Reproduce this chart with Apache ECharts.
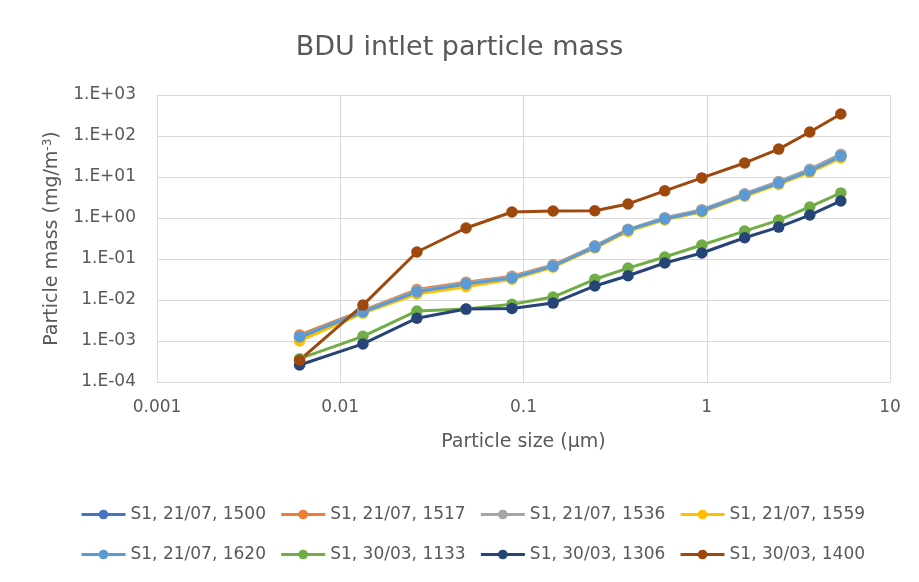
<!DOCTYPE html>
<html>
<head>
<meta charset="utf-8">
<title>BDU intlet particle mass</title>
<script src="https://cdn.jsdelivr.net/npm/echarts@6/dist/echarts.min.js"></script>
<style>
  html, body { margin: 0; padding: 0; background: #fff; }
  #frame {
    position: absolute; left: 7px; top: 3px; width: 940px; height: 620px;
    border: 1px solid #d9d9d9;
  }
  #chart { position: absolute; left: 0; top: 0; width: 919px; height: 582px; }
</style>
</head>
<body>
<div id="frame"></div>
<div id="chart"></div>
<script>
// particle sizes (µm), same for every run
const sizes = [0.006, 0.0133, 0.0262, 0.0486, 0.0865, 0.145, 0.245, 0.372, 0.59, 0.94, 1.61, 2.47, 3.65, 5.39];

// particle mass (mg/m-3) per run
const s1500 = [1.2e-3, 5.3e-3, 0.016, 0.025, 0.036, 0.068, 0.2, 0.5, 0.97, 1.5, 3.7, 7.2, 14.5, 33];
const s1517 = [1.4e-3, 5.6e-3, 0.018, 0.027, 0.038, 0.072, 0.205, 0.52, 1.0, 1.55, 3.8, 7.5, 15, 34];
const s1536 = [1.3e-3, 5.4e-3, 0.017, 0.026, 0.037, 0.07, 0.21, 0.53, 1.02, 1.6, 3.9, 7.8, 15.5, 36];
const s1559 = [1.0e-3, 4.8e-3, 0.014, 0.021, 0.032, 0.063, 0.185, 0.47, 0.9, 1.4, 3.4, 6.6, 13, 29];
const s1620 = [1.26e-3, 5.1e-3, 0.0158, 0.0245, 0.0345, 0.067, 0.195, 0.51, 0.95, 1.48, 3.6, 7.1, 14, 32];
const s1133 = [3.7e-4, 1.3e-3, 5.4e-3, 6.0e-3, 7.9e-3, 0.0118, 0.032, 0.06, 0.112, 0.22, 0.48, 0.89, 1.86, 4.1];
const s1306 = [2.6e-4, 8.5e-4, 3.6e-3, 6.0e-3, 6.2e-3, 8.4e-3, 0.022, 0.039, 0.08, 0.14, 0.33, 0.6, 1.18, 2.6];
const s1400 = [3.4e-4, 7.5e-3, 0.148, 0.57, 1.40, 1.48, 1.5, 2.2, 4.6, 9.5, 22, 48, 125, 345];

const runNames = ['S1, 21/07, 1500', 'S1, 21/07, 1517', 'S1, 21/07, 1536', 'S1, 21/07, 1559',
                  'S1, 21/07, 1620', 'S1, 30/03, 1133', 'S1, 30/03, 1306', 'S1, 30/03, 1400'];
const runValues = [s1500, s1517, s1536, s1559, s1620, s1133, s1306, s1400];
const runColors = ['#4472C4', '#ED7D31', '#A5A5A5', '#FFC000', '#5B9BD5', '#70AD47', '#264478', '#9E480E'];

const xTickLabels = ['0.001', '0.01', '0.1', '1', '10'];
const yTickLabels = ['1.E-04', '1.E-03', '1.E-02', '1.E-01', '1.E+00', '1.E+01', '1.E+02', '1.E+03'];

const FONT = 'DejaVu Sans';
const TEXT = '#595959';
const GRID = '#d9d9d9';

const myChart = echarts.init(document.getElementById('chart'));

const series = runNames.map((name, i) => ({
  type: 'line',
  name: name,
  data: sizes.map((x, j) => [x, runValues[i][j]]),
  symbol: 'circle',
  symbolSize: 11.5,
  color: runColors[i],
  lineStyle: { width: 3, color: runColors[i] },
  itemStyle: { color: runColors[i] },
  animation: false
}));

const legendBase = {
  orient: 'horizontal',
  left: 80,
  padding: 0,
  itemWidth: 44,
  itemHeight: 12,
  itemGap: 13.7,
  lineStyle: { width: 3 },
  textStyle: { fontFamily: FONT, fontSize: 17, color: TEXT }
};

const option = {
  backgroundColor: '#fff',
  title: {
    text: 'BDU intlet particle mass',
    left: 'center',
    top: 29,
    textStyle: { fontFamily: FONT, fontSize: 27, fontWeight: 'normal', color: TEXT }
  },
  legend: [
    Object.assign({}, legendBase, { top: 506, data: runNames.slice(0, 4) }),
    Object.assign({}, legendBase, { top: 546, data: runNames.slice(4) })
  ],
  grid: { left: 157, right: 29, top: 95, bottom: 200 },
  xAxis: {
    type: 'log',
    logBase: 10,
    min: 0.001,
    max: 10,
    splitNumber: 4,
    name: 'Particle size (µm)',
    nameLocation: 'middle',
    nameGap: 51,
    nameTextStyle: { fontFamily: FONT, fontSize: 19, color: TEXT },
    axisLine: { show: true, lineStyle: { color: GRID, width: 1 } },
    axisTick: { show: false },
    minorTick: { show: false },
    axisLabel: {
      margin: 17,
      fontFamily: FONT, fontSize: 17, color: TEXT,
      formatter: v => xTickLabels[Math.round(Math.log10(v)) + 3]
    },
    splitLine: { show: true, lineStyle: { color: GRID, width: 1 } }
  },
  yAxis: {
    type: 'log',
    logBase: 10,
    min: 1e-4,
    max: 1e3,
    splitNumber: 7,
    name: '{a|Particle mass (mg/m}{s|-3}{a|)}',
    nameLocation: 'middle',
    nameGap: 95,
    nameTextStyle: {
      fontFamily: FONT, fontSize: 19, color: TEXT,
      rich: {
        a: { fontFamily: FONT, fontSize: 19, color: TEXT },
        s: { fontFamily: FONT, fontSize: 12, color: TEXT, verticalAlign: 'top', padding: [0, 0, 8, 0] }
      }
    },
    axisLine: { show: true, lineStyle: { color: GRID, width: 1 } },
    axisTick: { show: false },
    minorTick: { show: false },
    axisLabel: {
      margin: 21,
      fontFamily: FONT, fontSize: 17, color: TEXT,
      formatter: v => yTickLabels[Math.round(Math.log10(v)) + 4]
    },
    splitLine: { show: true, lineStyle: { color: GRID, width: 1 } }
  },
  series: series
};

myChart.setOption(option);
</script>
</body>
</html>
